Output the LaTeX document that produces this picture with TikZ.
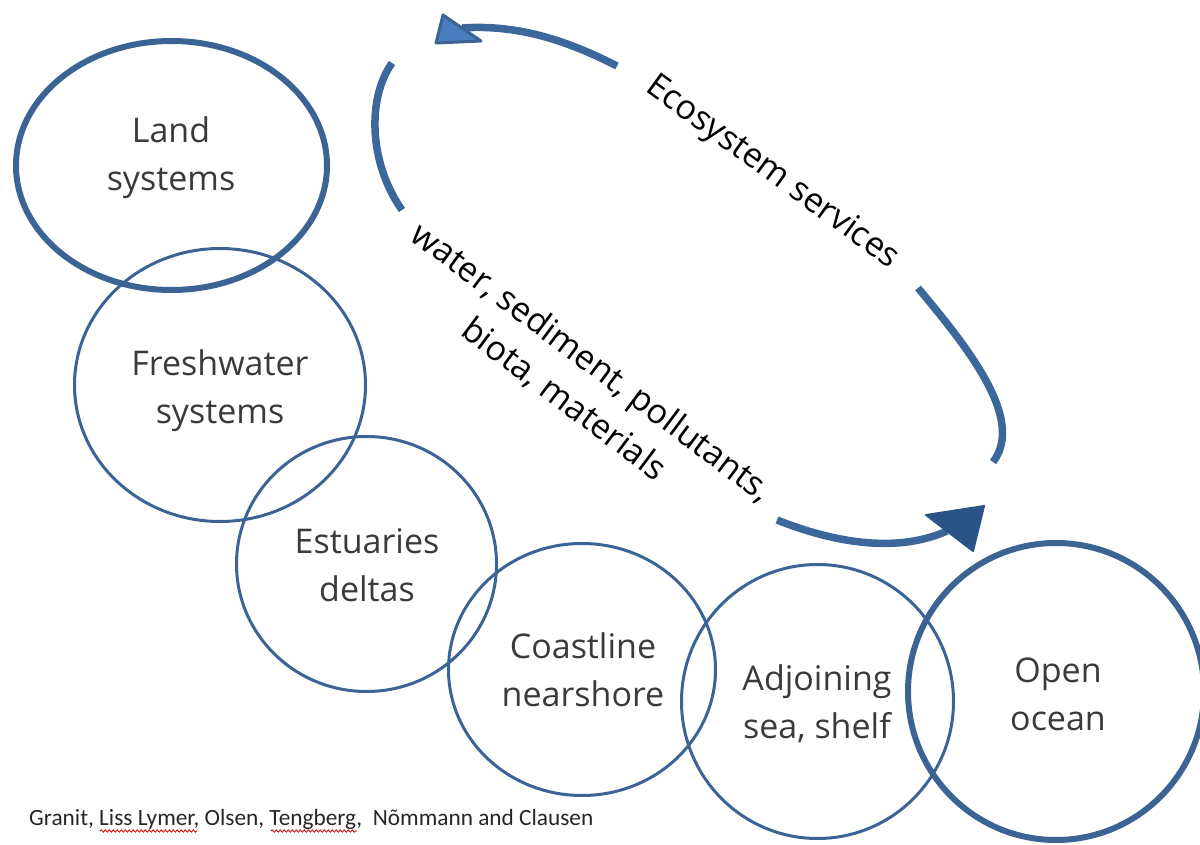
\documentclass[tikz,border=0pt]{standalone}
\usepackage{fontspec}
\setmainfont{Open Sans}
\newfontfamily\creditfont{Carlito}
\usetikzlibrary{shapes.geometric,decorations.pathmorphing}
\definecolor{circblue}{HTML}{3B6394}
\definecolor{arrblue}{HTML}{3C679A}
\definecolor{headlight}{HTML}{4A7DBD}
\definecolor{headdark}{HTML}{2A5488}
\definecolor{txtgray}{HTML}{3A3A3A}
\tikzset{
  circ/.style={ellipse, draw=circblue, line width=3pt, inner sep=0pt},
  thickcirc/.style={circ, line width=6pt},
  lbl/.style={align=center, text=txtgray, font=\fontsize{34}{48}\selectfont,
    execute at begin node=\strut, execute at end node=\strut, inner sep=0pt},
  rlbl/.style={align=center, text=black, font=\fontsize{34}{46}\selectfont,
    execute at begin node=\strut, execute at end node=\strut, inner sep=0pt},
  shaft/.style={draw=arrblue, line width=7.5pt},
  squiggle/.style={draw=red!85!black, line width=0.8pt, decorate,
    decoration={snake, amplitude=1.2pt, segment length=4pt}}
}
\begin{document}
\begin{tikzpicture}[x=1pt,y=-1pt]
\useasboundingbox (0,0) rectangle (1200,845);
% circles
\node[thickcirc, minimum width=311pt, minimum height=249pt] (land) at (171.5,165.5) {};
\node[circ, minimum width=291pt, minimum height=273pt] (fresh) at (220,385) {};
\node[circ, minimum width=260pt, minimum height=255pt] (estu) at (366.5,564) {};
\node[circ, minimum width=267pt, minimum height=252pt] (coast) at (582,669.5) {};
\node[circ, minimum width=272pt, minimum height=274pt] (adj) at (817.5,701.5) {};
\node[thickcirc, minimum width=296pt, minimum height=297pt] (ocean) at (1056,691.5) {};
% labels
\node[lbl] (landT) at (171,160.4) {Land\\systems};
\node[lbl] (freshT) at (220,394) {Freshwater\\systems};
\node[lbl] (estuT) at (367,572) {Estuaries\\deltas};
\node[lbl] (coastT) at (583,676.5) {Coastline\\nearshore};
\node[lbl] (adjT) at (817,709) {Adjoining\\sea, shelf};
\node[lbl] (oceanT) at (1058,701.5) {Open\\ocean};
% rotated labels
\node[rlbl, rotate=-36.9] (flowT) at (575,385) {water, sediment, pollutants,\\biota, materials};
\node[font=\fontsize{34}{46}\selectfont, text=black, inner sep=0pt, rotate=-36] (ecoT) at (772,173) {Ecosystem services};
% arrow shafts
\coordinate (tsA) at (617,66);
\coordinate (tsB) at (462,28);
\coordinate (laA) at (392,63);
\coordinate (laB) at (402,210);
\coordinate (raA) at (918,288);
\coordinate (raB) at (993,462);
\coordinate (bsA) at (777,520);
\coordinate (bsB) at (947,531);
\draw[shaft] (tsA) .. controls (570,42) and (520,24) .. (tsB);
\draw[shaft] (laA) .. controls (366,100) and (370,165) .. (laB);
\draw[shaft] (raA) .. controls (970,350) and (1025,420) .. (raB);
\draw[shaft] (bsA) .. controls (840,545) and (900,552) .. (bsB);
% arrow heads
\filldraw[fill=headlight, draw=circblue, line width=3pt, line join=round] (436,43) -- (443,15) -- (481,41) -- cycle;
\filldraw[fill=headdark, draw=headdark, line width=2pt, line join=round] (984,506) -- (926,515) -- (973,551) -- cycle;
% credit
\node[font=\creditfont\fontsize{23.3}{28}\selectfont, text=black!85, anchor=base west, inner sep=0pt] (credit) at (29,825) {Granit, Liss Lymer, Olsen, Tengberg,~ Nõmmann and Clausen};
\draw[squiggle] (100,831) -- (197,831);
\draw[squiggle] (271,831) -- (357,831);
\end{tikzpicture}
\end{document}
